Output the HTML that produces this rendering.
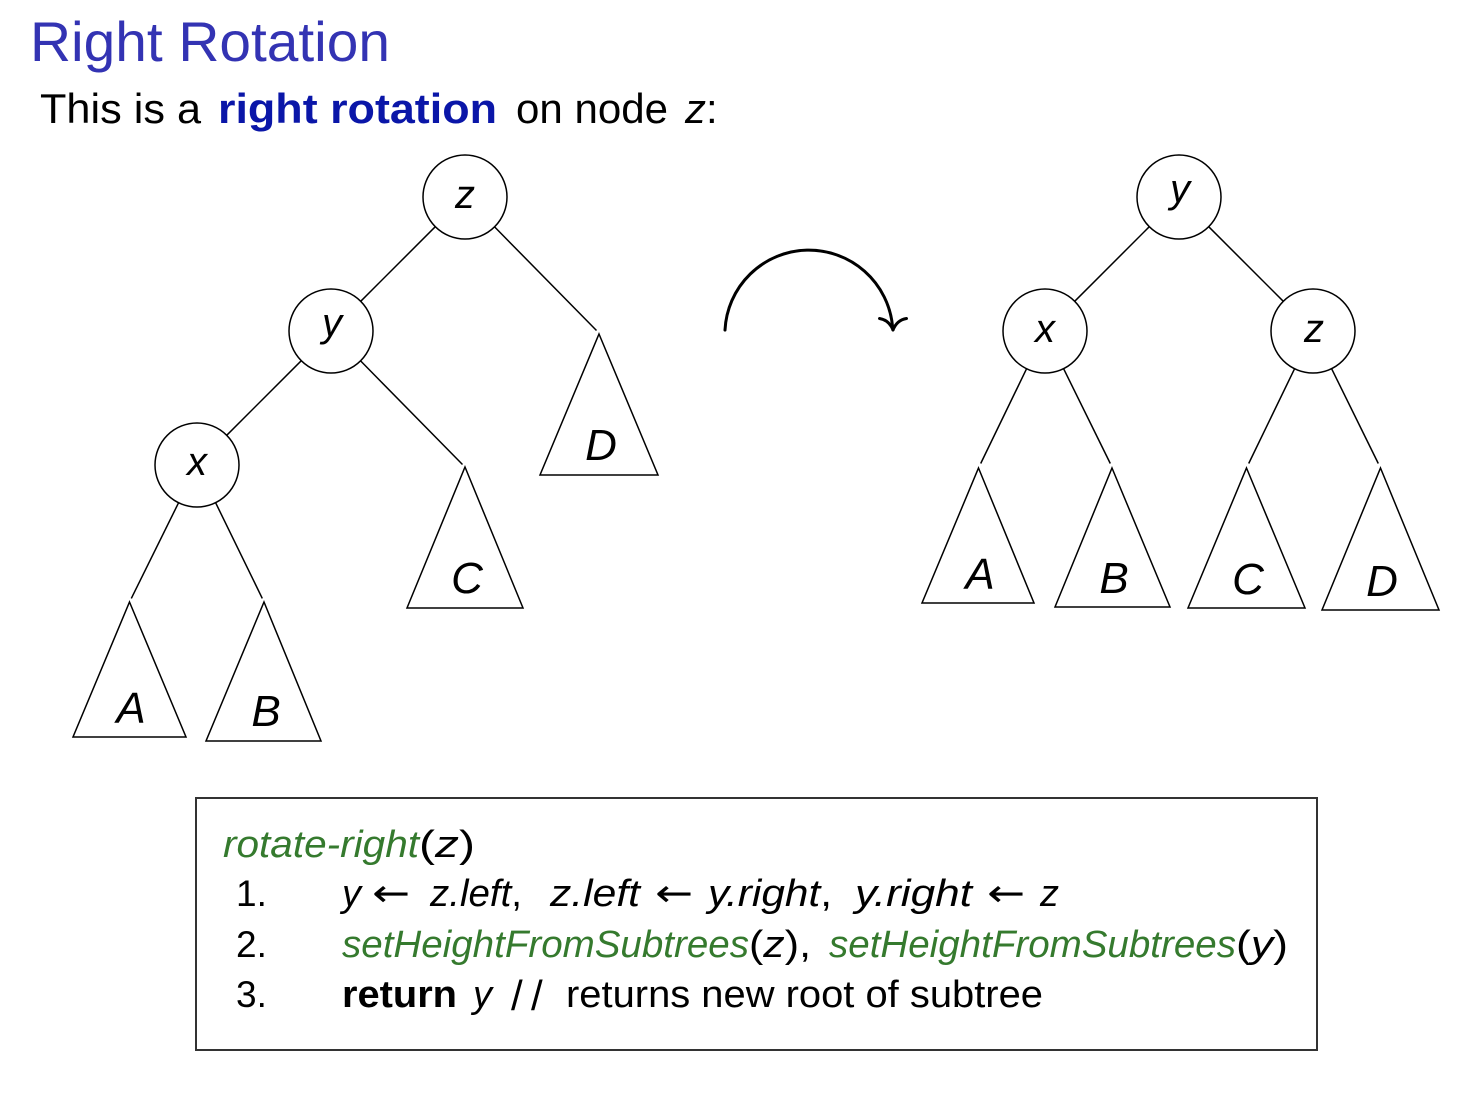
<!DOCTYPE html>
<html>
<head>
<meta charset="utf-8">
<style>
html,body{margin:0;padding:0;background:#fff;}
svg{display:block;}
text{font-family:"Liberation Sans","DejaVu Sans",sans-serif;}
.it{font-style:italic;}
.dj{font-family:"DejaVu Sans","Liberation Sans",sans-serif;}
</style>
</head>
<body>
<svg width="1474" height="1094" viewBox="0 0 1474 1094" xmlns="http://www.w3.org/2000/svg">
<rect x="0" y="0" width="1474" height="1094" fill="#fff"/>

<!-- Title -->
<text x="30" y="61" font-size="56" fill="#3333b3" textLength="360" lengthAdjust="spacingAndGlyphs">Right Rotation</text>

<!-- Subtitle -->
<text x="40" y="123" font-size="42" fill="#000" textLength="161" lengthAdjust="spacingAndGlyphs">This is a</text>
<text x="218" y="123" font-size="42" font-weight="bold" fill="#0a16a8" textLength="279" lengthAdjust="spacingAndGlyphs">right rotation</text>
<text x="516" y="123" font-size="42" fill="#000" textLength="152" lengthAdjust="spacingAndGlyphs">on node</text>
<text x="685" y="123" font-size="42" class="it" fill="#000">z</text>
<text x="706" y="123" font-size="42" fill="#000">:</text>

<g stroke="#000" stroke-width="1.5" fill="none">
  <!-- LEFT TREE -->
  <circle cx="465" cy="197" r="42"/>
  <circle cx="331" cy="331" r="42"/>
  <circle cx="197" cy="465" r="42"/>
  <line x1="435.3" y1="226.7" x2="360.7" y2="301.3"/>
  <line x1="494.6" y1="226.9" x2="596.5" y2="330.5"/>
  <line x1="301.3" y1="360.7" x2="226.7" y2="435.3"/>
  <line x1="360.6" y1="360.9" x2="462.5" y2="464.5"/>
  <line x1="178.6" y1="502.7" x2="131.3" y2="598.4"/>
  <line x1="215.6" y1="502.7" x2="262.3" y2="598.4"/>
  <polygon points="129.5,602 186,737 73,737"/>
  <polygon points="264,602 321,741 206,741"/>
  <polygon points="465,467 523,608 407,608"/>
  <polygon points="599,334 658,475 540,475"/>

  <!-- RIGHT TREE -->
  <circle cx="1179" cy="197" r="42"/>
  <circle cx="1045" cy="331" r="42"/>
  <circle cx="1313" cy="331" r="42"/>
  <line x1="1149.3" y1="226.7" x2="1074.7" y2="301.3"/>
  <line x1="1208.7" y1="226.7" x2="1283.3" y2="301.3"/>
  <line x1="1026.6" y1="368.7" x2="980.7" y2="463.5"/>
  <line x1="1063.6" y1="368.7" x2="1110.3" y2="463.5"/>
  <line x1="1294.6" y1="368.7" x2="1248.7" y2="463.5"/>
  <line x1="1331.6" y1="368.7" x2="1378.3" y2="463.5"/>
  <polygon points="978.5,468 1034,603 922,603"/>
  <polygon points="1112,468 1170,607 1055,607"/>
  <polygon points="1246.5,468 1305,608 1188,608"/>
  <polygon points="1380.5,468 1439,610 1322,610"/>
</g>

<!-- Node labels -->
<g font-size="40" fill="#000" text-anchor="middle">
  <text x="465" y="208" class="it">z</text>
  <text x="332" y="336" class="it">y</text>
  <text x="197" y="475" class="it">x</text>
  <text x="1180" y="202" class="it">y</text>
  <text x="1045" y="342" class="it">x</text>
  <text x="1314" y="342" class="it">z</text>
</g>
<!-- Triangle labels -->
<g font-size="44" fill="#000" text-anchor="middle">
  <text x="131" y="723" class="it">A</text>
  <text x="266" y="726" class="it">B</text>
  <text x="467" y="593" class="it">C</text>
  <text x="601" y="460" class="it">D</text>
  <text x="980" y="589" class="it">A</text>
  <text x="1114" y="593" class="it">B</text>
  <text x="1248" y="594" class="it">C</text>
  <text x="1382" y="596" class="it">D</text>
</g>

<!-- Rotation arrow -->
<g stroke="#000" stroke-width="3" fill="none" stroke-linecap="round">
  <path d="M725,330 A84,84 0 0 1 892.5,326"/>
  <path d="M879.5,318.5 Q889,320 893,330"/>
  <path d="M906.5,318.5 Q897,320 893,330"/>
</g>

<!-- Code box -->
<rect x="196" y="798" width="1121" height="252" fill="none" stroke="#333" stroke-width="2"/>

<text x="223" y="857" font-size="38" class="it" fill="#357a2e" textLength="196" lengthAdjust="spacingAndGlyphs">rotate-right</text>
<text x="419" y="857" font-size="38" fill="#000" textLength="56" lengthAdjust="spacingAndGlyphs">(<tspan class="it">z</tspan>)</text>

<g font-size="37" fill="#000">
  <text x="236" y="906">1.</text>
  <text x="236" y="957">2.</text>
  <text x="236" y="1007">3.</text>
</g>

<!-- Line 1 -->
<g font-size="38" fill="#000">
  <text x="342" y="906" class="it">y</text>
  <text x="372" y="906" class="dj" textLength="38" lengthAdjust="spacingAndGlyphs">←</text>
  <text x="430" y="906" textLength="92" lengthAdjust="spacingAndGlyphs"><tspan class="it">z.left</tspan>,</text>
  <text x="550" y="906" class="it" textLength="90" lengthAdjust="spacingAndGlyphs">z.left</text>
  <text x="655" y="906" class="dj" textLength="38" lengthAdjust="spacingAndGlyphs">←</text>
  <text x="708" y="906" textLength="124" lengthAdjust="spacingAndGlyphs"><tspan class="it">y.right</tspan>,</text>
  <text x="855" y="906" class="it" textLength="117" lengthAdjust="spacingAndGlyphs">y.right</text>
  <text x="987" y="906" class="dj" textLength="38" lengthAdjust="spacingAndGlyphs">←</text>
  <text x="1040" y="906" class="it">z</text>
</g>

<!-- Line 2 -->
<text x="342" y="957" font-size="38" class="it" fill="#357a2e" textLength="407" lengthAdjust="spacingAndGlyphs">setHeightFromSubtrees</text>
<text x="749" y="957" font-size="38" fill="#000" textLength="62" lengthAdjust="spacingAndGlyphs">(<tspan class="it">z</tspan>),</text>
<text x="829" y="957" font-size="38" class="it" fill="#357a2e" textLength="407" lengthAdjust="spacingAndGlyphs">setHeightFromSubtrees</text>
<text x="1236" y="957" font-size="38" fill="#000" textLength="52" lengthAdjust="spacingAndGlyphs">(<tspan class="it">y</tspan>)</text>

<!-- Line 3 -->
<text x="342" y="1007" font-size="38" font-weight="bold" fill="#000" textLength="115" lengthAdjust="spacingAndGlyphs">return</text>
<text x="473" y="1007" font-size="38" class="it" fill="#000">y</text>
<text x="511" y="1010" font-size="42" fill="#000">/</text>
<text x="531" y="1010" font-size="42" fill="#000">/</text>
<text x="566" y="1007" font-size="38" fill="#000" textLength="477" lengthAdjust="spacingAndGlyphs">returns new root of subtree</text>
</svg>
</body>
</html>
